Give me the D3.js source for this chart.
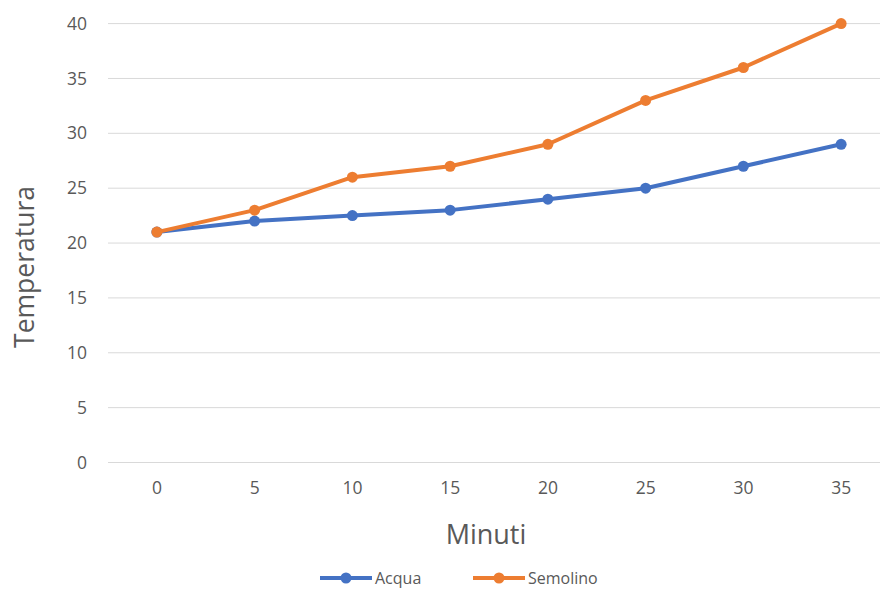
<!DOCTYPE html>
<html lang="it">
<head>
  <meta charset="UTF-8">
  <title>Temperatura</title>
  <script src="https://d3js.org/d3.v7.min.js"></script>
  <style>
    html, body { margin: 0; padding: 0; background: #fff; }
    svg { display: block; font-family: "Open Sans", "Noto Sans", sans-serif; }
  </style>
</head>
<body>
  <div id="chart"></div>
  <script>
    // data
    const minuti = ['0', '5', '10', '15', '20', '25', '30', '35'];
    const acqua = [21, 22, 22.5, 23, 24, 25, 27, 29];
    const semolino = [21, 23, 26, 27, 29, 33, 36, 40];
    const yTicks = [0, 5, 10, 15, 20, 25, 30, 35, 40];

    const series = [
      { name: 'Acqua', values: acqua, color: '#4472C4' },
      { name: 'Semolino', values: semolino, color: '#ED7D31' }
    ];

    const width = 880, height = 589;
    const svg = d3.select('#chart').append('svg')
      .attr('width', width)
      .attr('height', height);

    // plot area runs past the right edge of the picture
    const x = d3.scaleBand().domain(minuti).range([108, 890]);
    const y = d3.scaleLinear().domain([0, 40]).range([462.5, 23.6]);

    // gridlines
    svg.append('g')
      .selectAll('line')
      .data(yTicks)
      .enter().append('line')
      .attr('x1', 108).attr('x2', 890)
      .attr('y1', d => y(d)).attr('y2', d => y(d))
      .attr('stroke', '#d9d9d9')
      .attr('stroke-width', 1);

    // y axis
    const yAxis = svg.append('g')
      .attr('transform', 'translate(92,0)')
      .call(d3.axisLeft(y).tickValues(yTicks).tickSize(0).tickPadding(5));
    yAxis.select('.domain').remove();
    yAxis.selectAll('text')
      .attr('fill', '#595959')
      .attr('font-size', 17.5)
      .attr('font-family', '"Open Sans", sans-serif');

    // x axis
    const xAxis = svg.append('g')
      .attr('transform', 'translate(0,470)')
      .call(d3.axisBottom(x).tickSize(0).tickPadding(12));
    xAxis.select('.domain').remove();
    xAxis.selectAll('text')
      .attr('fill', '#595959')
      .attr('font-size', 17.5)
      .attr('font-family', '"Open Sans", sans-serif');

    const cx = d => x(d) + x.bandwidth() / 2;

    const line = d3.line()
      .x((d, i) => cx(minuti[i]))
      .y(d => y(d));

    series.forEach(s => {
      svg.append('path')
        .datum(s.values)
        .attr('fill', 'none')
        .attr('stroke', s.color)
        .attr('stroke-width', 4)
        .attr('stroke-linejoin', 'round')
        .attr('stroke-linecap', 'round')
        .attr('d', line);

      svg.append('g')
        .selectAll('circle')
        .data(s.values)
        .enter().append('circle')
        .attr('cx', (d, i) => cx(minuti[i]))
        .attr('cy', d => y(d))
        .attr('r', 5.5)
        .attr('fill', s.color);
    });

    // axis titles
    svg.append('text')
      .attr('transform', 'translate(34,267) rotate(-90)')
      .attr('text-anchor', 'middle')
      .attr('fill', '#595959')
      .attr('font-size', 26.5)
      .text('Temperatura');

    svg.append('text')
      .attr('x', 486).attr('y', 544)
      .attr('text-anchor', 'middle')
      .attr('fill', '#595959')
      .attr('font-size', 27)
      .text('Minuti');

    // legend
    const legendX = [320, 473];
    const legend = svg.append('g')
      .selectAll('g')
      .data(series)
      .enter().append('g')
      .attr('transform', (d, i) => `translate(${legendX[i]},578)`);
    legend.append('line')
      .attr('x1', 0).attr('x2', 52)
      .attr('stroke', d => d.color)
      .attr('stroke-width', 4);
    legend.append('circle')
      .attr('cx', 26).attr('r', 5.5)
      .attr('fill', d => d.color);
    legend.append('text')
      .attr('x', 55).attr('y', 0)
      .attr('dy', '0.35em')
      .attr('fill', '#595959')
      .attr('font-size', 16)
      .text(d => d.name);
  </script>
</body>
</html>
